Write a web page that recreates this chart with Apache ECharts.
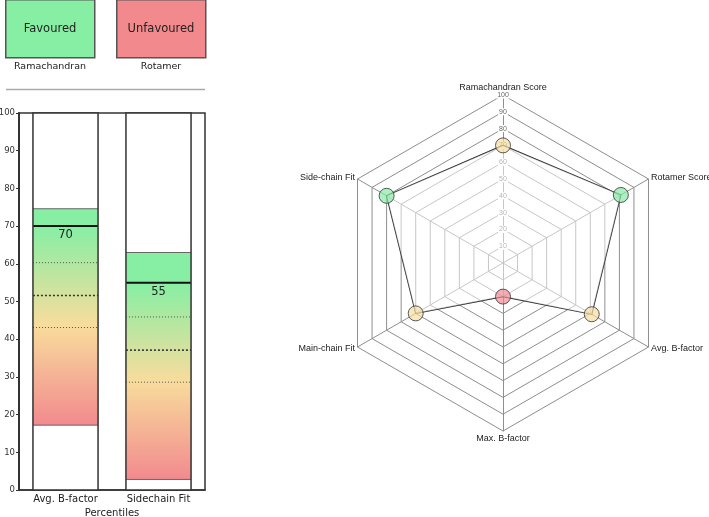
<!DOCTYPE html>
<html>
<head>
<meta charset="utf-8">
<script src="https://cdn.jsdelivr.net/npm/echarts@6/dist/echarts.min.js"></script>
<style>html,body{margin:0;padding:0;background:#fff;}#c{width:709px;height:517px;}</style>
</head>
<body>
<div id="c"></div>
<script>
// ---- Percentile bar panel data ----
var barCategories = ['Avg. B-factor', 'Sidechain Fit'];
var percentile = [70, 55];
var rangeLow = [17.2, 2.8];
var rangeHigh = [74.6, 63.0];
var quartileLow = [43.1, 28.6];
var median = [51.6, 37.1];
var quartileHigh = [60.3, 45.9];

// ---- Radar data (counter-clockwise from top) ----
var radarIndicators = ['Ramachandran Score', 'Side-chain Fit', 'Main-chain Fit', 'Max. B-factor', 'Avg. B-factor', 'Rotamer Score'];
var radarValues = [70, 80, 60, 20, 61, 81];

// ---- Legend texts ----
var legendBoxTexts = ['Favoured', 'Unfavoured'];
var legendCaptions = ['Ramachandran', 'Rotamer'];

var GREEN = '#86efa4', YELLOW = '#f8dc9c', RED = '#f28a8e';

function markerColor(v) {
  if (v >= 75) return 'rgba(134,232,164,0.85)';
  if (v >= 40) return 'rgba(246,221,160,0.85)';
  return 'rgba(240,138,145,0.85)';
}

function renderColumn(params, api) {
  var i = api.value(0);
  var band = api.size([1, 0])[0];
  var w = band * 0.7;
  var cx = api.coord([i, 0])[0];
  var x0 = cx - w / 2;
  var y = function (v) { return api.coord([i, v])[1]; };
  var yTop = y(100), yBot = y(0);
  var yHigh = y(rangeHigh[i]), yLow = y(rangeLow[i]), yVal = y(percentile[i]);
  var children = [
    { type: 'rect', shape: { x: x0, y: yTop, width: w, height: yBot - yTop }, style: { fill: '#fff', stroke: null } },
    { type: 'rect', shape: { x: x0, y: yHigh, width: w, height: yVal - yHigh }, style: { fill: GREEN } },
    { type: 'rect', shape: { x: x0, y: yVal, width: w, height: yLow - yVal },
      style: { fill: new echarts.graphic.LinearGradient(0, 0, 0, 1, [
        { offset: 0, color: GREEN }, { offset: 0.5, color: YELLOW }, { offset: 1, color: RED }]) } },
    { type: 'line', shape: { x1: x0, y1: yHigh, x2: x0 + w, y2: yHigh }, style: { stroke: '#666', lineWidth: 1 } },
    { type: 'line', shape: { x1: x0, y1: yLow, x2: x0 + w, y2: yLow }, style: { stroke: '#666', lineWidth: 1 } },
    { type: 'line', shape: { x1: x0, y1: y(quartileHigh[i]), x2: x0 + w, y2: y(quartileHigh[i]) }, style: { stroke: '#555', lineWidth: 1, lineDash: [1, 2] } },
    { type: 'line', shape: { x1: x0, y1: y(median[i]), x2: x0 + w, y2: y(median[i]) }, style: { stroke: '#333', lineWidth: 1.6, lineDash: [2, 2] } },
    { type: 'line', shape: { x1: x0, y1: y(quartileLow[i]), x2: x0 + w, y2: y(quartileLow[i]) }, style: { stroke: '#555', lineWidth: 1, lineDash: [1, 2] } },
    { type: 'line', shape: { x1: x0, y1: yVal, x2: x0 + w, y2: yVal }, style: { stroke: '#111', lineWidth: 2 } },
    { type: 'text', style: { x: cx, y: yVal + 3, text: String(percentile[i]), fill: '#222', font: '11.5px "DejaVu Sans"', textAlign: 'center', textVerticalAlign: 'top' } },
    { type: 'rect', shape: { x: x0, y: yTop, width: w, height: yBot - yTop }, style: { fill: null, stroke: '#333', lineWidth: 1.5 } }
  ];
  return { type: 'group', children: children };
}

var chart = echarts.init(document.getElementById('c'), null, { renderer: 'canvas' });

var graphics = [];
for (var k = 0; k < 2; k++) {
  var bx = k === 0 ? 5 : 116;
  graphics.push({ type: 'rect', left: bx, top: -1, shape: { width: 89, height: 58 },
    style: { fill: k === 0 ? GREEN : '#f2898c', stroke: '#555', lineWidth: 1.5 } });
  graphics.push({ type: 'text', x: bx + 45, y: 29, style: { text: legendBoxTexts[k], font: '11.5px "DejaVu Sans"', fill: '#222', textAlign: 'center', textVerticalAlign: 'middle' } });
  graphics.push({ type: 'text', x: bx + 45, y: 67, style: { text: legendCaptions[k], font: '9.5px "DejaVu Sans"', fill: '#222', textAlign: 'center', textVerticalAlign: 'middle' } });
}
graphics.push({ type: 'line', shape: { x1: 6, y1: 89.5, x2: 205, y2: 89.5 }, style: { stroke: '#aaa', lineWidth: 1.5 } });

var indicators = radarIndicators.map(function (n, i) {
  var o = { name: n, min: 0, max: 100 };
  if (i === 0) {
    o.axisLabel = { show: true, showMinLabel: false, fontSize: 7, color: '#666', margin: 0, align: 'center', verticalAlign: 'middle',
      backgroundColor: '#fff', padding: [0, 1], fontFamily: 'Liberation Sans' };
  }
  return o;
});

var option = {
  animation: false,
  backgroundColor: '#fff',
  graphic: graphics,
  grid: { left: 19, right: 504, top: 113, bottom: 27, show: true, borderColor: '#333', borderWidth: 1.5, backgroundColor: 'transparent',
    containLabel: false, outerBoundsMode: 'none' },
  xAxis: {
    type: 'category', data: barCategories,
    axisLine: { show: true, lineStyle: { color: '#333', width: 1.5 } },
    axisTick: { show: false },
    axisLabel: { fontSize: 10, color: '#222', fontFamily: 'DejaVu Sans', margin: 4 },
    name: 'Percentiles', nameLocation: 'middle', nameGap: 17,
    nameTextStyle: { fontSize: 10, color: '#222', fontFamily: 'DejaVu Sans' }
  },
  yAxis: {
    type: 'value', min: 0, max: 100, interval: 10,
    axisLine: { show: true, lineStyle: { color: '#333', width: 2 } },
    axisTick: { show: true, length: 3, lineStyle: { color: '#333' } },
    axisLabel: { fontSize: 8.5, color: '#333', fontFamily: 'DejaVu Sans', margin: 4, padding: [0, 0, 6, 0] },
    splitLine: { show: false }
  },
  radar: {
    center: [503, 263], radius: 168, shape: 'polygon', splitNumber: 10,
    startAngle: 90,
    indicator: indicators,
    axisName: { color: '#222', fontSize: 9, fontFamily: 'Liberation Sans' },
    nameGap: 3,
    splitLine: { lineStyle: { color: '#8e8e8e', width: 1 } },
    splitArea: { show: false },
    axisLine: { lineStyle: { color: '#8e8e8e', width: 1 } },
    axisTick: { show: false },
    axisLabel: { show: false }
  },
  polar: { center: [503, 263], radius: 168 },
  angleAxis: { type: 'category', data: radarIndicators, startAngle: 90, clockwise: false, boundaryGap: false, show: false },
  radiusAxis: { type: 'value', min: 0, max: 100, show: false },
  series: [
    { type: 'custom', coordinateSystem: 'cartesian2d', renderItem: renderColumn,
      data: barCategories.map(function (c, i) { return [i]; }), encode: { x: 0 }, z: 2 },
    { type: 'radar', symbol: 'none', z: 3,
      lineStyle: { color: '#222', width: 1.2 },
      areaStyle: { color: 'rgba(255,255,255,0.5)', opacity: 1 },
      data: [{ value: radarValues }] },
    { type: 'scatter', coordinateSystem: 'polar', symbol: 'circle', symbolSize: 15, z: 4,
      data: radarValues.map(function (v, i) {
        return { value: [v, i], itemStyle: { color: markerColor(v), borderColor: '#333', borderWidth: 1 } };
      }) }
  ]
};
chart.setOption(option);
</script>
</body>
</html>
